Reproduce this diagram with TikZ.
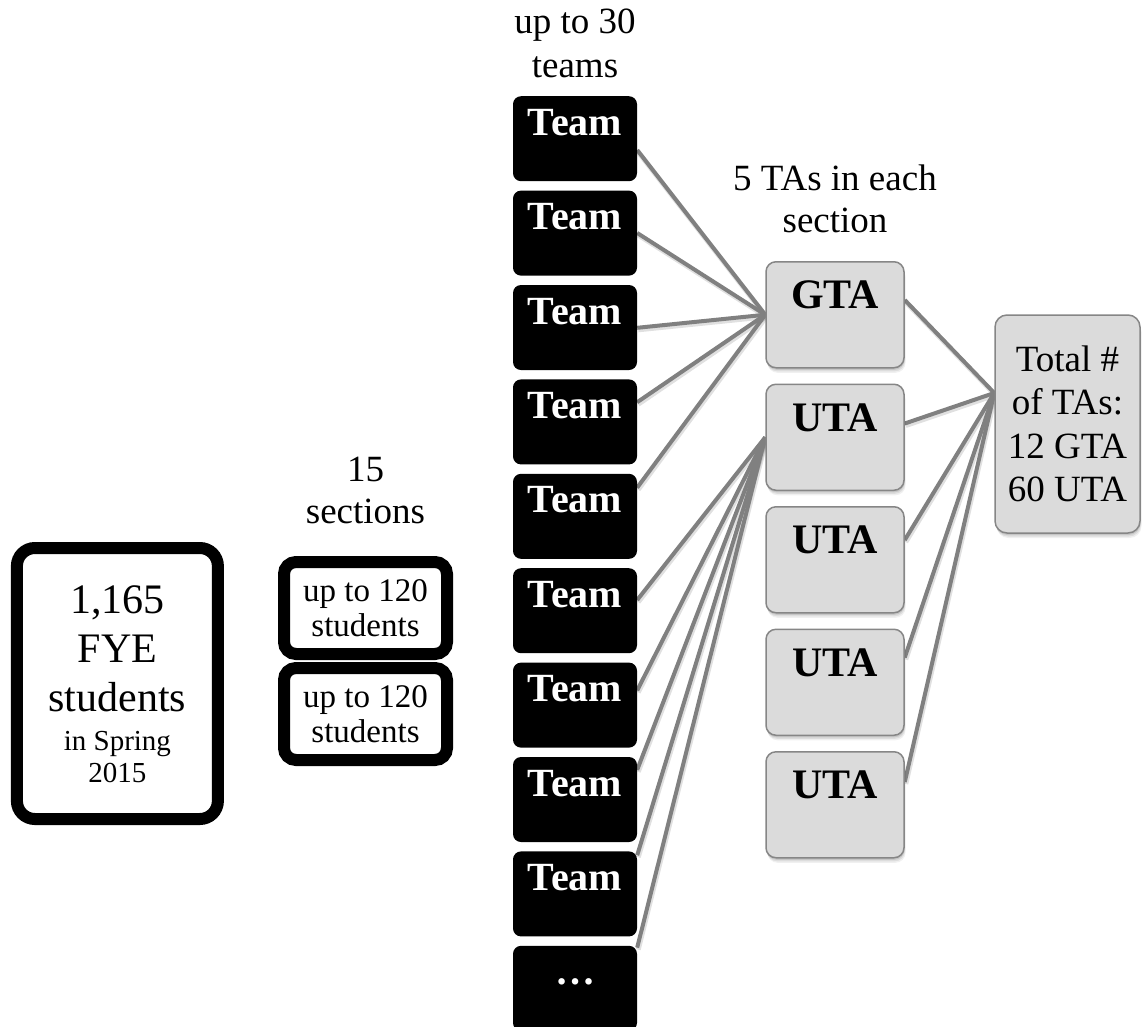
\documentclass[tikz,border=0pt]{standalone}
\usepackage{fontspec}
\setmainfont{Liberation Serif}
\usetikzlibrary{calc}
\definecolor{linegray}{HTML}{808080}
\definecolor{tafill}{HTML}{DBDBDB}
\definecolor{taborder}{HTML}{868686}
\pgfdeclarelayer{back}
\pgfdeclarelayer{bg}
\pgfsetlayers{back,bg,main}
\begin{document}
\begin{tikzpicture}[x=1pt,y=-1pt,
  softshadow/.style={
    preaction={fill=black, draw=none, opacity=0.06, transform canvas={xshift=1.5pt,yshift=-5pt}},
    preaction={fill=black, draw=none, opacity=0.08, transform canvas={xshift=1pt,yshift=-3.5pt}},
    preaction={fill=black, draw=none, opacity=0.10, transform canvas={xshift=0.5pt,yshift=-2pt}}},
  teambox/.style={fill=black, rounded corners=8pt, minimum width=124pt, inner sep=0pt,
    text height=39pt, text depth=46pt, text=white,
    font=\fontsize{40}{48}\selectfont\bfseries, anchor=north},
  tabox/.style={softshadow, fill=tafill, draw=taborder, line width=1.5pt, rounded corners=10pt,
    minimum width=138pt, inner sep=0pt, text height=47pt, text depth=59pt,
    font=\fontsize{42}{50}\selectfont\bfseries, anchor=north},
  totalbox/.style={softshadow, fill=tafill, draw=taborder, line width=1.5pt, rounded corners=12pt,
    minimum width=145pt, minimum height=218pt, inner sep=0pt, align=center,
    font=\fontsize{37}{43.5}\selectfont},
  bigbox/.style={draw=black, line width=12pt, rounded corners=18pt,
    minimum width=201pt, minimum height=271pt, inner sep=0pt},
  secbox/.style={draw=black, line width=12pt, rounded corners=12pt,
    minimum width=163pt, minimum height=92pt, inner sep=0pt, align=center,
    font=\fontsize{33}{35}\selectfont},
  lbl/.style={anchor=base, inner sep=0pt, font=\fontsize{37}{43}\selectfont},
  bigtxt/.style={anchor=base, inner sep=0pt, font=\fontsize{42}{49}\selectfont},
  smalltxt/.style={anchor=base, inner sep=0pt, font=\fontsize{29}{32}\selectfont},
  conn/.style={draw=linegray, line width=4pt,
    preaction={draw=black, opacity=0.12, line width=5pt, transform canvas={xshift=1pt,yshift=-2pt}}}
]
\begin{pgfonlayer}{back}
\fill[white] (0,0) rectangle (1143,1026);
\end{pgfonlayer}
\useasboundingbox (0,0) rectangle (1143,1026);
\clip (0,0) rectangle (1143,1026);

% left box
\node[bigbox] (fye) at (117.4,683.5) {};
\node[bigtxt] (f1) at (117.4,613) {1,165};
\node[bigtxt] (f2) at (117.4,662) {FYE};
\node[bigtxt] (f3) at (117.4,711) {students};
\node[smalltxt] (f4) at (117.4,750) {in Spring};
\node[smalltxt] (f5) at (117.4,782) {2015};

% sections
\node[lbl] (l3a) at (365.5,481) {15};
\node[lbl] (l3b) at (365.5,523) {sections};
\node[secbox] (s1) at (365.5,608) {up to 120\\students};
\node[secbox] (s2) at (365.5,714) {up to 120\\students};

% teams
\node[lbl] (l1a) at (575,33) {up to 30};
\node[lbl] (l1b) at (575,77) {teams};
\foreach \i/\tp in {1/96,2/190.4,3/284.8,4/379.2,5/473.6,6/568,7/662.4,8/756.8,9/851.2}
  \node[teambox] (t\i) at (575,\tp) {Team};
\node[teambox] (t10) at (575,945.6) {…};

% TAs
\node[lbl] (l2a) at (835,190) {5 TAs in each};
\node[lbl] (l2b) at (835,232) {section};
\node[tabox] (gta) at (835,261) {GTA};
\node[tabox] (uta1) at (835,383.5) {UTA};
\node[tabox] (uta2) at (835,506) {UTA};
\node[tabox] (uta3) at (835,628.5) {UTA};
\node[tabox] (uta4) at (835,751) {UTA};

% total
\node[totalbox] (total) at (1067.5,424) {Total \#\\of TAs:\\12 GTA\\60 UTA};

% connectors
\begin{pgfonlayer}{bg}
\foreach \i/\d in {1/54,2/42.6,3/43,4/23,5/14}
  \draw[conn] (gta.west) -- ($(t\i.north east)+(0,\d)$);
\foreach \i/\d in {6/32,7/28,8/13,9/4,10/2}
  \draw[conn] (uta1.west) -- ($(t\i.north east)+(0,\d)$);
\coordinate (tin) at ($(total.west)+(0,-31)$);
\foreach \n/\d in {gta/39,uta1/40,uta2/34,uta3/29,uta4/31}
  \draw[conn] ($(\n.north east)+(0,\d)$) -- (tin);
\end{pgfonlayer}
\end{tikzpicture}
\end{document}
